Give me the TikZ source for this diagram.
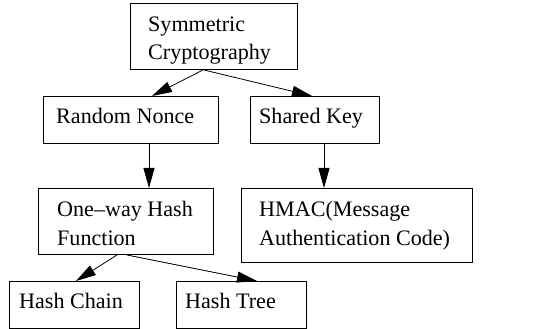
\documentclass[tikz,border=0pt]{standalone}
\usepackage{fontspec}
\setmainfont{Liberation Serif}
\usetikzlibrary{arrows.meta}
\begin{document}
\begin{tikzpicture}[x=1pt,y=-1pt,
  box/.style={draw=black, line width=1pt, inner sep=0pt, anchor=north west},
  lbl/.style={inner sep=0pt, align=left, font=\fontsize{22.1}{28.5}\selectfont, anchor=base west},
  arr/.style={line width=0.8pt, -{Triangle[length=20pt,width=11pt]}}]
\useasboundingbox (0,0) rectangle (539,329);
% boxes
\node[box, minimum width=167pt, minimum height=66pt] (sym) at (130,3) {};
\node[box, minimum width=175pt, minimum height=47pt] (rn) at (43,96) {};
\node[box, minimum width=129pt, minimum height=47pt] (sk) at (250,96) {};
\node[box, minimum width=175pt, minimum height=66pt] (ow) at (38,188) {};
\node[box, minimum width=231pt, minimum height=74pt] (hm) at (241,188) {};
\node[box, minimum width=130pt, minimum height=47pt] (hc) at (9,281) {};
\node[box, minimum width=130pt, minimum height=47pt] (ht) at (176,281) {};
% labels (base anchor = baseline of the last line)
\node[lbl] (symT) at (148,60) {Symmetric\\Cryptography};
\node[lbl] (rnT) at (56,124) {Random Nonce};
\node[lbl] (skT) at (259,124) {Shared Key};
\node[lbl] (owT) at (57,245) {One–way Hash\\Function};
\node[lbl] (hmT) at (259,245) {HMAC(Message\\Authentication Code)};
\node[lbl] (hcT) at (19,308) {Hash Chain};
\node[lbl] (htT) at (185,308) {Hash Tree};
% connectors
\draw[arr] ([xshift=73pt]sym.south west) -- ([xshift=109pt]rn.north west);
\draw[arr] ([xshift=74pt]sym.south west) -- ([xshift=62pt]sk.north west);
\draw[arr] ([xshift=106pt]rn.south west) -- ([xshift=111pt]ow.north west);
\draw[arr] ([xshift=74pt]sk.south west) -- ([xshift=83pt]hm.north west);
\draw[arr] ([xshift=79pt]ow.south west) -- ([xshift=67pt]hc.north west);
\draw[arr] ([xshift=89pt]ow.south west) -- ([xshift=81pt]ht.north west);
\end{tikzpicture}
\end{document}
